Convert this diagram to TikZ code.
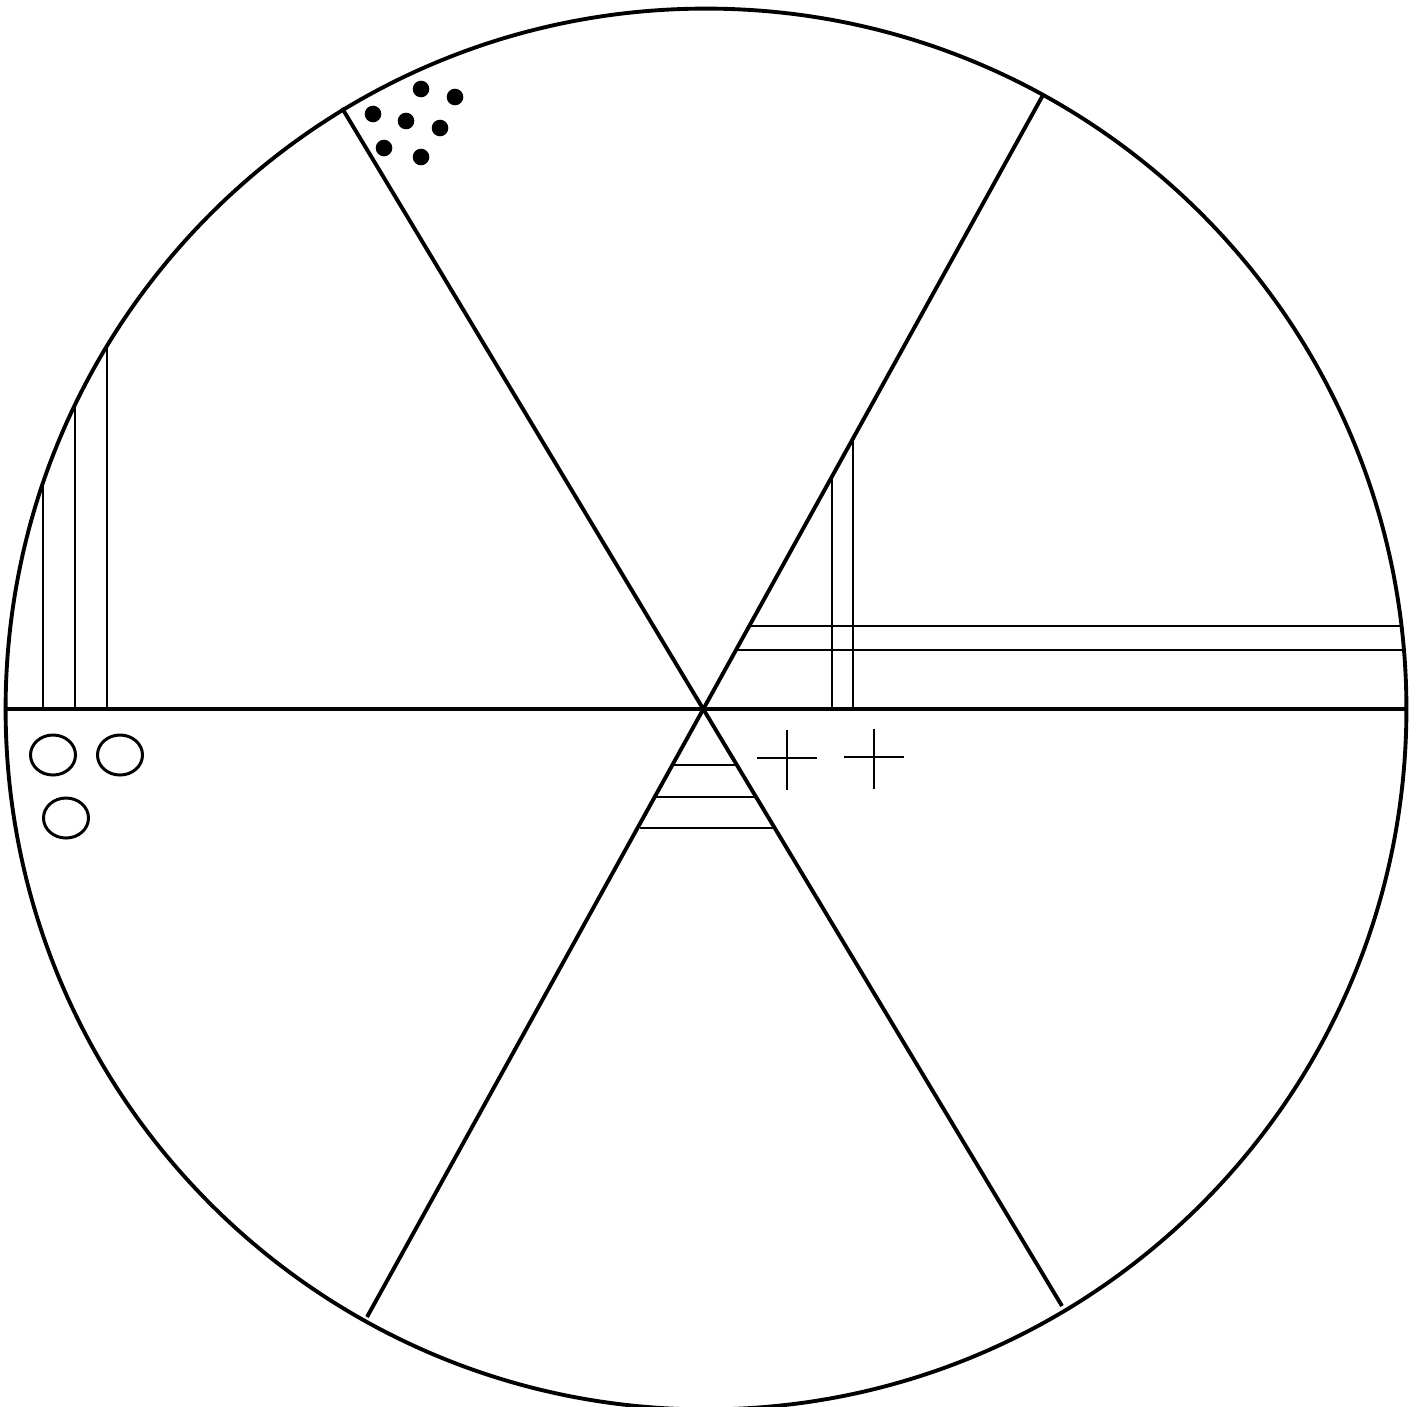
\documentclass[tikz,border=0pt]{standalone}
\usepackage{tikz}
\usetikzlibrary{positioning}

\begin{document}
\begin{tikzpicture}[x=0.01cm,y=-0.01cm,
  rim/.style={line width=1.1pt},
  thin line/.style={line width=0.65pt},
  ring/.style={line width=0.85pt}]
\useasboundingbox (0,0) rectangle (1419,1406);
% wheel and spokes
\coordinate (ctr) at (706,709);
\coordinate (W) at (6,709);
\coordinate (E) at (1406,709);
\coordinate (NW) at (342,108);
\coordinate (SE) at (1062,1306);
\coordinate (NE) at (1043,95);
\coordinate (SW) at (367,1317);
\draw[rim] (ctr) circle[radius=7cm];
\draw[rim] (W) -- (E);
\draw[rim] (NW) -- (SE);
\draw[rim] (NE) -- (SW);
% left sector: vertical strokes
\foreach \x/\top in {43/484.4,75/405.9,107/347.3}
  \draw[thin line] (\x,709) -- (\x,\top);
% right sector: two vertical and two horizontal strokes
\draw[thin line] (832,709) -- (832,478);
\draw[thin line] (853,709) -- (853,440);
\draw[thin line] (750,626) -- (1401,626);
\draw[thin line] (737,650) -- (1403,650);
% bottom sector: ladder
\draw[thin line] (674,765) -- (738,765);
\draw[thin line] (656,797) -- (757,797);
\draw[thin line] (640,828) -- (773,828);
% crosses
\foreach \cx/\cy in {787/758,874/757}{
  \draw[thin line] (\cx-30,\cy) -- (\cx+30,\cy);
  \draw[thin line] (\cx,\cy-28) -- (\cx,\cy+32);
}
% small rings
\foreach \cx/\cy in {53/755,120/755,66/818}
  \draw[ring] (\cx,\cy) ellipse[x radius=0.225cm,y radius=0.2cm];
% dots
\foreach \cx/\cy in {373/114,421/89,455/97,406/121,440/128,384/148,421/157}
  \fill (\cx,\cy) circle[radius=0.083cm];
\end{tikzpicture}
\end{document}
